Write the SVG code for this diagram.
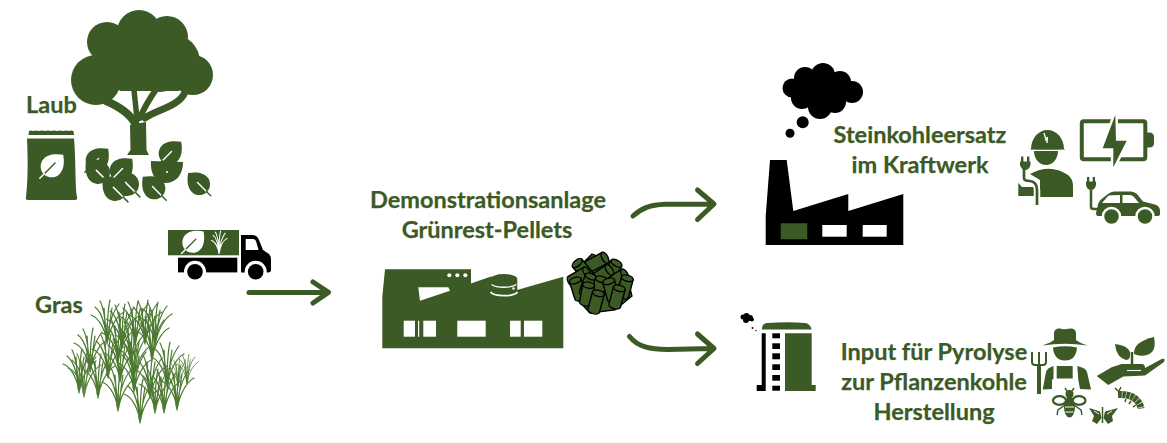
<svg xmlns="http://www.w3.org/2000/svg" width="1167" height="443" viewBox="0 0 1167 443">
<style>
  .g { fill: #3c5a25; }
  .k { fill: #000; }
  .w { fill: #fff; }
  text { font-family: Lato, "Liberation Sans", sans-serif; font-weight: 700; fill: #3c5a25; stroke: #3c5a25; stroke-width: .25px; font-size: 23.5px; }
  .m { text-anchor: middle; }
  .arrow { fill: none; stroke: #3c5a25; stroke-width: 5; stroke-linecap: round; stroke-linejoin: round; }
  .twig { fill: none; stroke: #3c5a25; stroke-linecap: round; }
  .blade { fill: none; stroke: #4d7a32; stroke-width: 1.2; stroke-linecap: round; }
</style>
<defs>
  <g id="leaf">
    <path class="g" d="M0,-22 C10,-15 17,-6 15,4 C13,12 6,16 0,16 C-6,16 -13,12 -15,4 C-17,-6 -10,-15 0,-22Z"/>
    <path d="M0,-3 L0,15" stroke="#fff" stroke-width="2" stroke-linecap="round"/>
    <path d="M0,15 L0,24" stroke="#3c5a25" stroke-width="2" stroke-linecap="round"/>
  </g>
  <g id="leaf-w">
    <path class="w" d="M0,-22 C10,-15 17,-6 15,4 C13,12 6,16 0,16 C-6,16 -13,12 -15,4 C-17,-6 -10,-15 0,-22Z"/>
    <path d="M0,-6 L0,15" stroke="#3c5a25" stroke-width="2" stroke-linecap="round"/>
    <path d="M0,15 L0,24" stroke="#fff" stroke-width="2" stroke-linecap="round"/>
  </g>
  <path id="tuft" class="blade" d="M0,0 C-1,-14 -3,-30 -12,-37 M0,0 C-1,-20 -3,-36 -7,-43 M0,0 C0,-20 1,-35 3,-44 M0,0 C1,-15 4,-30 12,-40 M0,0 C2,-14 9,-28 17,-32 M0,0 C-1,-12 -7,-26 -16,-29 M-1,-4 C-2,-14 -2,-26 -3,-36 M1,-4 C2,-14 3,-24 5,-36"/>
  <g id="pellet">
    <path d="M-6,-9 L-6,9 A6,3 0 0 0 6,9 L6,-9Z" fill="#3c5a25" stroke="#000" stroke-width="1.400"/>
    <ellipse cx="0" cy="-9" rx="6" ry="3" fill="#3c5a25" stroke="#000" stroke-width="1.400"/>
  </g>
</defs>

<rect width="1167" height="443" fill="#fff"/>

<g id="tree">
  <g class="g">
    <circle cx="96" cy="80" r="25"/>
    <circle cx="107" cy="42" r="20"/>
    <circle cx="139" cy="32" r="22"/>
    <circle cx="167" cy="37" r="21"/>
    <circle cx="172" cy="62" r="28"/>
    <circle cx="193" cy="75" r="20"/>
    <circle cx="160" cy="70" r="22"/>
    <path d="M105,40 L170,30 L195,60 L190,88 L178,91 L120,91 L100,70Z"/>
    <path d="M127,155 L130.500,150 L130,125 L146,122 L146.500,150 L149,155Z"/>
  </g>
  <path class="twig" stroke-width="8" d="M136,125 C130,113 118,106 106,101"/>
  <path class="twig" stroke-width="5.500" d="M137,120 C136,108 135,100 134,90"/>
  <path class="twig" stroke-width="6" d="M140,118 C145,105 150,98 157,88"/>
  <path class="twig" stroke-width="7" d="M145,118 C156,110 180,106 185,92"/>
</g>

<g id="leaves">
  <use href="#leaf" transform="translate(97,160) rotate(45) scale(.72)"/>
  <use href="#leaf" transform="translate(98,172) rotate(-45) scale(.76)"/>
  <use href="#leaf" transform="translate(127,184) rotate(-45) scale(.76)"/>
  <use href="#leaf" transform="translate(115,189) rotate(-45) scale(.76)"/>
  <use href="#leaf" transform="translate(121,170) rotate(45) scale(.72)"/>
  <use href="#leaf" transform="translate(154,188) rotate(-45) scale(.72)"/>
  <use href="#leaf" transform="translate(170,153) rotate(45) scale(.72)"/>
  <path class="g" d="M151,161 L183,162 C183,175 176,183 165,183 C155,183 150,172 151,161Z"/>
  <circle cx="167" cy="172" r="1" fill="#fff"/>
  <use href="#leaf" transform="translate(199,184) rotate(-45) scale(.7)"/>
</g>

<g id="sack">
  <path class="g" d="M28.500,135 L74,135 L73.500,131 Q71,130 69,131 Q66,130 63,131 Q60,130 57,131 Q54,130 51,131 Q48,130 45,131 Q42,130 39,131 Q36,130 33,131 Q31,130 29,131Z"/>
  <path class="g" d="M28,138.500 L74,138.500 C76,160 75,185 77,197 Q78,200 75,200 L28,200 Q25,200 26,197 C28,180 28,160 27,138.500Z"/>
  <use href="#leaf-w" transform="translate(52,166) rotate(45) scale(.72)"/>
</g>

<text id="label-laub" x="26" y="113">Laub</text>
<text id="label-gras" x="35" y="313">Gras</text>

<g id="grass">
  <use href="#tuft" x="79" y="393"/>
  <use href="#tuft" x="84" y="397" opacity=".9"/>
  <use href="#tuft" x="98" y="398"/>
  <use href="#tuft" x="90" y="372"/>
  <use href="#tuft" x="107" y="344"/>
  <use href="#tuft" x="122" y="348"/>
  <use href="#tuft" x="135" y="345"/>
  <use href="#tuft" x="145" y="344"/>
  <use href="#tuft" x="155" y="346"/>
  <use href="#tuft" x="118" y="362"/>
  <use href="#tuft" x="131" y="364"/>
  <use href="#tuft" x="152" y="360"/>
  <use href="#tuft" x="108" y="378"/>
  <use href="#tuft" x="120" y="382"/>
  <use href="#tuft" x="134" y="378"/>
  <use href="#tuft" x="134" y="392"/>
  <use href="#tuft" x="167" y="386"/>
  <use href="#tuft" x="118" y="411"/>
  <use href="#tuft" x="140" y="423"/>
  <use href="#tuft" x="155" y="413"/>
  <use href="#tuft" x="164" y="413"/>
  <use href="#tuft" x="177" y="410"/>
  <use href="#tuft" x="150" y="398"/>
  <use href="#tuft" transform="translate(187,383) scale(.65)"/>
  <use href="#tuft" transform="translate(178,386) scale(.6)"/>
</g>

<g id="truck">
  <rect class="g" x="168" y="230" width="71" height="25.300"/>
  <use href="#leaf-w" transform="translate(193,242) rotate(45) scale(.68)"/>
  <path transform="translate(219,254) scale(.53)" d="M0,0 C-1,-15 -3,-30 -12,-36 M0,0 C0,-20 -3,-35 -7,-42 M0,0 C0,-20 1,-35 3,-44 M0,0 C1,-15 4,-30 12,-40 M0,0 C2,-14 8,-26 16,-30 M0,0 C-1,-12 -7,-24 -15,-26" fill="none" stroke="#fff" stroke-width="2"/>
  <rect class="k" x="178" y="257.700" width="59.300" height="14.700"/>
  <path class="k" d="M241,235 L252,235 Q257,235 259,240 L263,250 L269,254 Q271,256 271,260 L271,270 Q271,272.400 268,272.400 L241,272.400Z"/>
  <path class="w" d="M245.700,239 L253,239 Q255,239 256,241 L258.500,250 L245.700,250Z"/>
  <circle class="w" cx="195" cy="271.700" r="11"/>
  <circle class="w" cx="255.700" cy="271.700" r="11"/>
  <circle class="k" cx="195" cy="271.700" r="7.800"/>
  <circle class="k" cx="255.700" cy="271.700" r="7.800"/>
</g>

<g id="connectors">
  <path class="arrow" d="M249,292.400 L327,292.400 M313,282 L328.500,292.400 L313,303"/>
  <path class="arrow" d="M633,216 C642,208 650,205 665,204.300 L713,204 M697.500,190 L714,204 L697.500,219.500"/>
  <path class="arrow" d="M629.500,336.500 C638,347 650,349.500 668,349.500 L712,348.500 M697.500,334 L714,348.500 L697.500,363.500"/>
</g>

<text id="label-anlage" class="m"><tspan x="488" y="208">Demonstrationsanlage</tspan><tspan x="487" y="238">Grünrest-Pellets</tspan></text>

<g id="plant">
  <path class="g" d="M385,269.300 L471,269.300 L471,283.500 L491,276.500 L517,290 L563.300,276.700 L563.300,348.300 L382.300,348.300 L382.300,296.700Z"/>
  <path class="g" d="M490.700,279 A13.300,5 0 0 1 517.300,279 L517.300,295 A13.300,5 0 0 1 490.700,295Z"/>
  <path d="M491.500,284.500 A14,5 0 0 0 516.500,284.500" fill="none" stroke="#fff" stroke-width="1.300"/>
  <path d="M490.500,292 A14,5 0 0 0 517.500,292" fill="none" stroke="#fff" stroke-width="1.800"/>
  <circle class="w" cx="513.500" cy="288.500" r="1.200"/>
  <circle class="w" cx="449.300" cy="275.300" r="2"/>
  <circle class="w" cx="457.300" cy="275.300" r="2"/>
  <circle class="w" cx="465.300" cy="275.300" r="2"/>
  <path class="w" d="M418.300,287.300 L448.300,287.300 L450,290.700 L420,300.700Z"/>
  <rect class="w" x="403.700" y="320.700" width="11.300" height="16"/>
  <rect class="w" x="418" y="320.700" width="1.200" height="16"/>
  <rect class="w" x="423.300" y="320.700" width="12.700" height="16"/>
  <rect class="w" x="457.300" y="320.700" width="28.400" height="16"/>
  <rect class="w" x="510" y="320.700" width="10.700" height="16"/>
  <rect class="w" x="524" y="320.700" width="18.300" height="16"/>
</g>

<g id="pellets">
  <path d="M592,254 L612,262 L628,280 L632,296 L615,310 L590,313 L574,296 L571,283 L578,268Z" fill="#3c5a25" stroke="#000" stroke-width="1.300"/>
  <use href="#pellet" transform="translate(597,262) rotate(62)"/>
  <use href="#pellet" transform="translate(583,270) rotate(-40)"/>
  <use href="#pellet" transform="translate(579,277) rotate(60)"/>
  <use href="#pellet" transform="translate(612,271) rotate(30)"/>
  <use href="#pellet" transform="translate(617,279) rotate(60)"/>
  <use href="#pellet" transform="translate(602,275) rotate(55)"/>
  <use href="#pellet" transform="translate(625,287) rotate(15)"/>
  <use href="#pellet" transform="translate(578,289) rotate(-18)"/>
  <use href="#pellet" transform="translate(588,285) rotate(20)"/>
  <use href="#pellet" transform="translate(599,288) rotate(15)"/>
  <use href="#pellet" transform="translate(611,290) rotate(-15)"/>
  <use href="#pellet" transform="translate(587,294) rotate(10)"/>
  <use href="#pellet" transform="translate(617,297) rotate(15)"/>
  <use href="#pellet" transform="translate(596,302) rotate(15)"/>
</g>

<g id="power-station">
  <g class="k">
    <circle cx="805" cy="78" r="11"/>
    <circle cx="823" cy="75" r="12"/>
    <circle cx="840" cy="82" r="11"/>
    <circle cx="852" cy="92" r="11"/>
    <circle cx="835" cy="102" r="11"/>
    <circle cx="820" cy="107" r="12"/>
    <circle cx="802" cy="98" r="11"/>
    <circle cx="792" cy="88" r="9.500"/>
    <circle cx="822" cy="90" r="16"/>
    <circle cx="802.700" cy="122.300" r="6"/>
    <circle cx="790" cy="133.300" r="4.500"/>
    <path d="M770,160 L786.700,160 L793.300,211 L848.300,194 L848.300,211 L903.300,194 L903.300,245 L765.700,245 L765.700,216Z"/>
  </g>
  <rect class="g" x="780.700" y="223.300" width="26.600" height="16"/>
  <rect class="w" x="822.300" y="225" width="24.400" height="11.700"/>
  <rect class="w" x="862.700" y="225" width="24" height="11.700"/>
</g>

<text id="label-kohle" class="m"><tspan x="920" y="143">Steinkohleersatz</tspan><tspan x="920" y="173">im Kraftwerk</tspan></text>

<g id="worker">
  <path class="g" d="M1030,174 Q1050,163 1068,175 Q1073,179 1073,186 L1073,197 L1040,197 L1040,180 L1030,174Z"/>
  <path class="g" d="M1018.300,183 L1018.300,196 L1035,196 L1035,187 L1022,187Z"/>
  <path class="g" d="M1031,149 A16.500,19 0 0 1 1064,149 L1065,149 L1065,149.500 Q1047,150 1029.500,149.500Z"/>
  <path d="M1044,133 L1046,140 L1047.500,137 L1047,143" fill="none" stroke="#fff" stroke-width="1.300"/>
  <path class="g" d="M1034,151 L1058,151 A12,14 0 0 1 1034,151Z"/>
  <path d="M1024,170 L1024,178 Q1024,181 1030,181 Q1037,182 1037,190 L1037,205" fill="none" stroke="#fff" stroke-width="6.500"/>
  <path d="M1024,168 L1024,178 Q1024,181 1030,181 Q1037,182 1037,190 L1037,205" fill="none" stroke="#3c5a25" stroke-width="2.700"/>
  <path class="g" d="M1020,161.500 L1030.500,161.500 L1030.500,165 Q1029,170 1025.300,170 Q1021.500,170 1020,165Z"/>
  <rect class="g" x="1021" y="156.500" width="2.400" height="6"/>
  <rect class="g" x="1027" y="156.500" width="2.400" height="6"/>
</g>

<g id="battery">
  <rect x="1081.800" y="121.200" width="63.500" height="38" rx="2" fill="none" stroke="#3c5a25" stroke-width="4"/>
  <path class="g" d="M1147,132.500 L1150,132.500 Q1154,133 1154,137 L1154,143 Q1154,147 1150,147.500 L1147,147.500Z"/>
  <path d="M1115.300,115 L1102.700,148.300 L1113.300,148.300 L1113.300,167.300 L1126.700,140.700 L1116,140.700Z" fill="#3c5a25" stroke="#fff" stroke-width="5" stroke-linejoin="miter" paint-order="stroke"/>
</g>

<g id="car">
  <path class="g" d="M1097.500,207 Q1098,202 1101,199.500 L1108,194 Q1111,191.500 1114,191.500 L1131,191.500 Q1134,191.500 1137,194 L1143,201.500 L1155,204.500 Q1160,206 1160,211 L1160,214 Q1160,216 1157,216 L1098,216 Q1096,216 1096,213Z"/>
  <path class="w" d="M1102,203 L1108,196 Q1110,195 1120,195 L1120,203Z"/>
  <path class="w" d="M1122.500,195 L1130,195 Q1132,195 1134,197 L1139,203 L1122.500,203Z"/>
  <circle cx="1111.500" cy="216.500" r="8.500" class="g" stroke="#fff" stroke-width="2.500"/>
  <circle cx="1145" cy="216.500" r="8.500" class="g" stroke="#fff" stroke-width="2.500"/>
  <path d="M1091,190 L1091,207 Q1091,209 1094,209 L1098,209" fill="none" stroke="#3c5a25" stroke-width="2.500"/>
  <path class="g" d="M1086,181.500 L1096,181.500 L1096,185 Q1095,190 1091,190 Q1087,190 1086,185Z"/>
  <rect class="g" x="1087" y="177" width="2.300" height="5"/>
  <rect class="g" x="1092.700" y="177" width="2.300" height="5"/>
</g>

<g id="pyrolysis">
  <g class="k">
    <circle cx="743" cy="317" r="2.500"/>
    <circle cx="746.500" cy="316" r="3"/>
    <circle cx="750" cy="318" r="3"/>
    <circle cx="746" cy="320" r="3"/>
    <circle cx="752" cy="319.500" r="2"/>
    <circle cx="752.500" cy="328" r=".9"/>
    <circle cx="756" cy="330.500" r=".7"/>
    <path d="M761.700,333.300 L765.700,333.300 L765.700,385 L765.700,391 L756.700,391 L756.700,385 L761.700,385Z"/>
    <rect x="772.300" y="333.300" width="7.700" height="5"/>
    <rect x="772.300" y="343.300" width="7.700" height="5.700"/>
    <rect x="772.300" y="353.300" width="7.700" height="6"/>
    <rect x="772.300" y="364.300" width="7.700" height="5.700"/>
    <rect x="772.300" y="375" width="7.700" height="5.700"/>
    <rect x="772.300" y="385.700" width="7.700" height="5"/>
  </g>
  <path class="g" d="M761.700,329.500 Q762,323.500 767,323 Q790,321.500 805,323 Q810,323.500 811.700,329.500Z"/>
  <path class="g" d="M785,333.300 L811.700,333.300 L811.700,385 L815.700,385 L815.700,391 L785,391Z"/>
</g>

<text id="label-pyrolyse" class="m"><tspan x="934" y="360">Input für Pyrolyse</tspan><tspan x="934" y="390">zur Pflanzenkohle</tspan><tspan x="934" y="420">Herstellung</tspan></text>

<g id="farmer">
  <path class="g" d="M1042.500,345.500 Q1052,342 1054,340 L1054,333 Q1054.500,328 1060,328.500 Q1064,330 1070,328.500 Q1075.500,328 1076,333 L1076,340 Q1080,343 1087.500,345.500 Q1065,342 1042.500,345.500Z"/>
  <path class="g" d="M1053,347.500 Q1065,345 1077,347.500 Q1076,360.500 1065,360.500 Q1054,360.500 1053,347.500Z"/>
  <path class="g" d="M1042.700,389.500 L1046,372 Q1047,368 1053.500,366 L1053.500,378.500 L1052,380 L1052,389Z"/>
  <rect class="g" x="1056.700" y="366" width="16" height="12.500"/>
  <path class="g" d="M1077.300,366 Q1086,368 1087,372 L1091,389.500 L1080,389 L1078.300,380Z"/>
  <path class="g" d="M1037,364 L1041,364 L1041,394 L1037,394Z"/>
  <path d="M1032,352 L1032,362 Q1032,365 1035,365 L1043,365 Q1046,365 1046,362 L1046,352 M1039,352 L1039,365" fill="none" stroke="#3c5a25" stroke-width="2"/>
</g>

<g id="hand-with-plant">
  <path class="g" d="M1096.700,376 L1111.700,367.300 L1121.700,364 L1141.700,364 Q1145,364 1145,368 L1161.700,359 Q1166,358 1164,362 L1145,375.500 L1123.300,376.500 L1108.300,385Z"/>
  <path d="M1127,370.500 L1141,370.500" stroke="#fff" stroke-width="1.100"/>
  <path class="g" d="M1115,344 Q1127,345 1130,352 Q1131,360 1126,360 Q1116,357 1115,344Z"/>
  <path class="g" d="M1154,337 Q1157,352 1147,355 Q1140,357 1134,354 Q1133,342 1154,337Z"/>
  <path d="M1132,352 L1132,364" stroke="#3c5a25" stroke-width="2.500"/>
</g>

<g id="caterpillar">
  <path d="M1118,394.500 Q1128,394 1134,398 Q1140,402 1141,408.500" fill="none" stroke="#3c5a25" stroke-width="7" stroke-dasharray="3.600 .5"/>
  <path d="M1118,391 L1115,388 M1119,391 L1121,387 M1126,399 L1125,402 M1131,401 L1129,404 M1136,405 L1133,407" stroke="#3c5a25" stroke-width="1.500"/>
</g>

<g id="bee">
  <ellipse cx="1059.500" cy="400.500" rx="6.500" ry="4.300" fill="none" stroke="#3c5a25" stroke-width="2.200"/>
  <ellipse cx="1079" cy="400.500" rx="6.500" ry="4.300" fill="none" stroke="#3c5a25" stroke-width="2.200"/>
  <circle class="g" cx="1069.500" cy="394" r="4"/>
  <ellipse class="g" cx="1069.500" cy="407" rx="5.500" ry="10.500"/>
  <path d="M1065,407 L1074,407 M1065.500,412 L1073.500,412" stroke="#fff" stroke-width="1.200"/>
  <path d="M1065,388 L1067,391 M1074,388 L1072,391 M1065,405 L1058,410 L1057,415 M1074,405 L1081,410 L1082,415" fill="none" stroke="#3c5a25" stroke-width="1.400"/>
</g>

<g id="butterfly">
  <path class="g" d="M1089,408 L1100,411.500 L1101.500,418 L1097,424 L1092,421 L1094,416Z"/>
  <path class="g" d="M1118,408 L1105,411.500 L1103.500,418 L1108,424 L1113,421 L1112,416Z"/>
  <path d="M1094,411 L1099,414 M1112,411 L1107,414" stroke="#fff" stroke-width=".9"/>
  <path d="M1102.500,407 L1102.500,423" stroke="#3c5a25" stroke-width="1.500"/>
</g>
</svg>
